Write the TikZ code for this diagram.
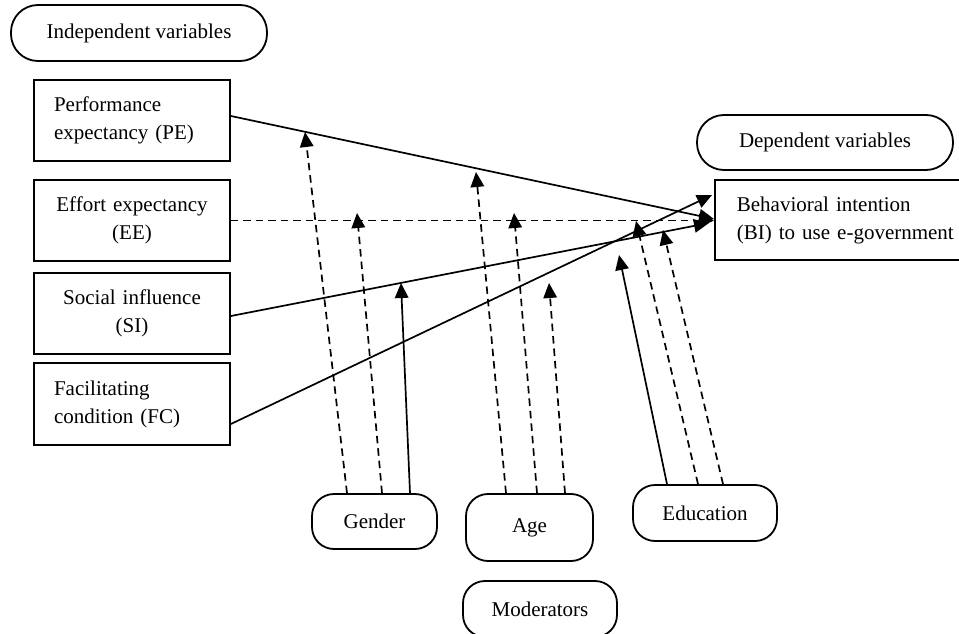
\documentclass[tikz,border=0pt]{standalone}
\usepackage{fontspec}
\setmainfont{Liberation Serif}
\usetikzlibrary{arrows.meta}
\begin{document}
\begin{tikzpicture}[x=1pt,y=-1pt,
  every node/.style={font=\fontsize{21}{28}\selectfont},
  varbox/.style={draw, line width=1.8pt, rectangle, minimum height=81pt, inner xsep=20pt, inner ysep=0pt, text width=156pt},
  pill/.style={draw, line width=1.8pt, rounded corners=22pt, inner sep=0pt},
  link/.style={line width=1.7pt, -{Triangle[length=15pt,width=13.5pt]}},
  dashlink/.style={link, dash pattern=on 7.5pt off 5pt}
]
\useasboundingbox (0,0) rectangle (959,634);

% header pills
\node[pill, rounded corners=27pt, minimum width=256pt, minimum height=56pt] (indep) at (139,33) {Independent variables};
\node[pill, rounded corners=27pt, minimum width=256pt, minimum height=55pt] (dep) at (825,142.5) {Dependent variables};

% independent variables
\node[varbox, align=left] (PE) at (132,120.5) {Performance\\expectancy (PE)};
\node[varbox, align=center] (EE) at (132,220.5) {Effort expectancy\\(EE)};
\node[varbox, align=center] (SI) at (132,313.5) {Social influence\\(SI)};
\node[varbox, align=left, minimum height=82pt] (FC) at (132,404) {Facilitating\\condition (FC)};

% dependent variable
\node[draw, line width=1.8pt, anchor=west, minimum height=80pt, inner xsep=22pt, inner ysep=0pt, text width=230pt, align=left] (BI) at (714,220) {Behavioral intention\\(BI) to use e-government};

% moderators
\node[pill, minimum width=125pt, minimum height=55pt] (gender) at (374.5,521.5) {Gender};
\node[pill, minimum width=127pt, minimum height=67pt] (age) at (529.5,527.5) {Age};
\node[pill, minimum width=144pt, minimum height=56pt] (edu) at (705,513) {Education};
\node[pill, minimum width=154pt, minimum height=56pt] (mod) at (540,609) {Moderators};

% main paths
\draw[link] ([yshift=4.5pt]PE.east) -- ([yshift=1pt]BI.west);
\draw[dashlink] (EE.east) -- (EE.east -| BI.west);
\draw[link] ([yshift=-2.5pt]SI.east) -- ([yshift=-3pt,xshift=-5pt]BI.west);
\draw[link] ([yshift=-20pt]FC.east) -- ([yshift=25pt,xshift=-2pt]BI.west);

% tips of moderating arrows
\coordinate (g1t) at (305,132);
\coordinate (g2t) at (357,213);
\coordinate (g3t) at (401,283);
\coordinate (a1t) at (476,172);
\coordinate (a2t) at (514,213);
\coordinate (a3t) at (549,283);
\coordinate (e1t) at (619,255);
\coordinate (e2t) at (636,221);
\coordinate (e3t) at (663,230);

% gender
\draw[dashlink] ([xshift=-27.5pt]gender.north) -- (g1t);
\draw[dashlink] ([xshift=7.5pt]gender.north) -- (g2t);
\draw[link] ([xshift=35.5pt]gender.north) -- (g3t);
% age
\draw[dashlink] ([xshift=-23.5pt]age.north) -- (a1t);
\draw[dashlink] ([xshift=7.5pt]age.north) -- (a2t);
\draw[dashlink] ([xshift=35.5pt]age.north) -- (a3t);
% education
\draw[link] ([xshift=-38pt]edu.north) -- (e1t);
\draw[dashlink] ([xshift=-7pt]edu.north) -- (e2t);
\draw[dashlink] ([xshift=18pt]edu.north) -- (e3t);
\end{tikzpicture}
\end{document}
